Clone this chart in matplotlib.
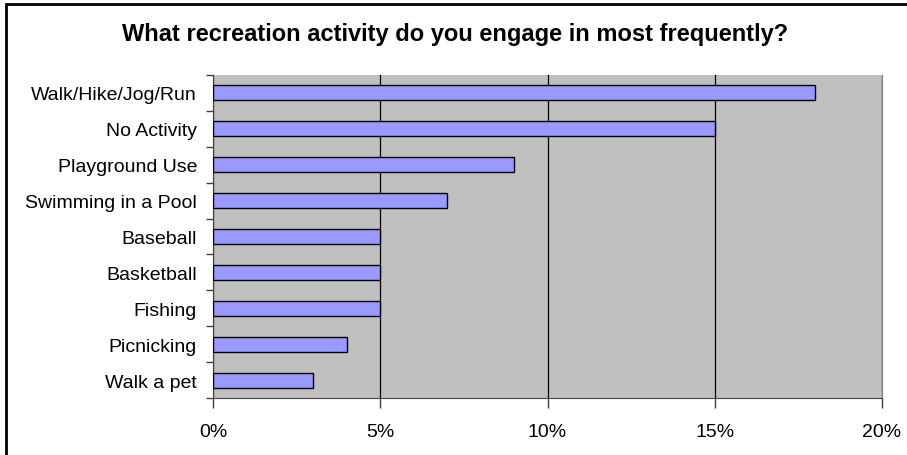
import matplotlib
matplotlib.use("Agg")
import matplotlib.pyplot as plt
from matplotlib.patches import Rectangle
from matplotlib.ticker import FuncFormatter

plt.rcParams['font.family'] = ['Liberation Sans', 'DejaVu Sans']

# survey answers, top to bottom as shown
activities = ["Walk/Hike/Jog/Run", "No Activity", "Playground Use", "Swimming in a Pool",
              "Baseball", "Basketball", "Fishing", "Picnicking", "Walk a pet"]
percents = [18, 15, 9, 7, 5, 5, 5, 4, 3]
xticks = [0, 5, 10, 15, 20]

W, H = 907, 456
fig = plt.figure(figsize=(W / 100, H / 100), dpi=100)

# outer chart border (only top/left fall inside the picture)
fig.patches.append(Rectangle((6 / W, -0.05), 1.2, 1 - 5 / H + 0.05, transform=fig.transFigure,
                             fill=False, edgecolor='black', linewidth=2))

ax = fig.add_axes([213 / W, 1 - 399 / H, (882 - 213) / W, (399 - 76) / H])
ax.set_facecolor('#C0C0C0')

ypos = list(range(len(activities)))
ax.barh(ypos, percents, height=0.42, color='#9999FF', edgecolor='black', linewidth=1, zorder=3)

ax.set_xlim(0, 20)
ax.set_ylim(len(activities) - 0.5, -0.5)
ax.set_xticks(xticks)
ax.xaxis.set_major_formatter(FuncFormatter(lambda v, p: f"{v:.0f}%"))
ax.set_yticks(ypos)
ax.set_yticklabels(activities)
# category boundaries get the tick marks, labels sit in between
ax.set_yticks([i - 0.5 for i in range(len(activities) + 1)], minor=True)
ax.tick_params(axis='y', which='major', length=0, pad=11.5, labelsize=14)
ax.tick_params(axis='y', which='minor', length=5, width=1, color='#404040')
ax.tick_params(axis='x', length=7, width=1, color='#404040', pad=11, labelsize=14)

ax.grid(axis='x', color='black', linewidth=0.9, zorder=0)
ax.set_axisbelow(True)
ax.spines['top'].set_visible(False)
ax.spines['right'].set_color('#808080')
ax.spines['left'].set_color('#404040')
ax.spines['bottom'].set_color('#404040')

fig.text(455 / W, 1 - 34 / H, "What recreation activity do you engage in most frequently?",
         ha='center', va='center', fontsize=17, fontweight='bold')

fig.savefig("out.png", dpi=100)
